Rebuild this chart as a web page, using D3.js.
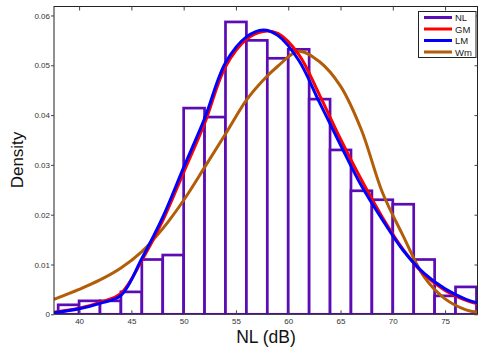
<!DOCTYPE html>
<html>
<head>
<meta charset="utf-8">
<script src="https://cdn.jsdelivr.net/npm/d3@7"></script>
<style>
body{margin:0;background:#fff;}
svg{font-family:"Liberation Sans",Arial,sans-serif;}
</style>
</head>
<body>
<div id="Main_Part"></div>
<script>
// histogram of NL, bins of 2 dB
var BinEdges = [38,40,42,44,46,48,50,52,54,56,58,60,62,64,66,68,70,72,74,76,78];
var BinDensity = [0.0019,0.0027,0.0027,0.0045,0.0110,0.0119,0.0414,0.0396,0.0587,0.0550,
                  0.0514,0.0532,0.0432,0.0330,0.0248,0.0230,0.0221,0.0110,0.0037,0.0055];

// fitted curves
var CurveX  = [37.6,40,42,44,46,48,50,52,54,56,57.6,59,61,63,65,67,69,71,73,75,77,78.1];
var CurveGM = [0.0004,0.0012,0.0024,0.0042,0.0108,0.0188,0.0285,0.0383,0.0497,0.0552,0.0568,0.0564,0.0522,0.0440,0.0352,0.0270,0.0195,0.0130,0.0080,0.0048,0.0028,0.0021];
var CurveLM = [0.0003,0.0011,0.0022,0.0038,0.0112,0.0195,0.0295,0.0393,0.0505,0.0557,0.0571,0.0560,0.0510,0.0425,0.0340,0.0258,0.0190,0.0128,0.0082,0.0051,0.0030,0.0023];
var CurveWm = [0.0030,0.0050,0.0069,0.0093,0.0126,0.0172,0.0229,0.0295,0.0362,0.0430,0.0470,0.0498,0.0528,0.0507,0.0458,0.0370,0.0245,0.0157,0.0075,0.0031,0.0009,0.0004];

var XTicks = [40,45,50,55,60,65,70,75];
var YTicks = [0,0.01,0.02,0.03,0.04,0.05,0.06];
var LegendNames = ["NL","GM","LM","Wm"];
var LegendColors = ["#5c0cb4","#ff0000","#0000ff","#b25d08"];

var Left = 54, Right = 477.5, Top = 6.5, Bottom = 314.3;

var svg = d3.select('#Main_Part')
	.append("svg")
	.attr("width",479)
	.attr("height",347);

var x = d3.scaleLinear().domain([37.6,78.1]).range([Left,Right]);
var y = d3.scaleLinear().domain([0,0.0618]).range([Bottom,Top]);

svg.append("clipPath")
	.attr("id","PlotClip")
	.append("rect")
	.attr("x",Left)
	.attr("y",Top)
	.attr("width",Right-Left)
	.attr("height",Bottom-Top);

var Plot = svg.append("g").attr("clip-path","url(#PlotClip)");

// bars
Plot.selectAll(".bar")
	.data(BinDensity)
	.enter()
	.append("rect")
	.attr("class","bar")
	.attr("x",function(d,i){ return x(BinEdges[i]); })
	.attr("width",function(d,i){ return x(BinEdges[i+1]) - x(BinEdges[i]); })
	.attr("y",function(d){ return y(d); })
	.attr("height",function(d){ return y(0) - y(d); })
	.style("fill","white")
	.style("stroke",LegendColors[0])
	.style("stroke-width",2.7);

// curves
var line = d3.line()
	.x(function(d){ return x(d[0]); })
	.y(function(d){ return y(d[1]); })
	.curve(d3.curveCatmullRom.alpha(0.5));

function DrawCurve(Values,Color)
{
	Plot.append("path")
	.datum(CurveX.map(function(v,i){ return [v,Values[i]]; }))
	.attr("d",line)
	.style("fill","none")
	.style("stroke",Color)
	.style("stroke-width",3);
	return null;
}
DrawCurve(CurveWm,LegendColors[3]);
DrawCurve(CurveGM,LegendColors[1]);
DrawCurve(CurveLM,LegendColors[2]);

// frame
svg.append("rect")
	.attr("x",Left)
	.attr("y",Top)
	.attr("width",Right-Left)
	.attr("height",Bottom-Top)
	.style("fill","none")
	.style("stroke","#222")
	.style("stroke-width",1);

// ticks
svg.append("g")
	.attr("transform","translate(0," + Bottom + ")")
	.call(d3.axisBottom(x).tickValues(XTicks).tickSize(-4).tickPadding(4))
	.call(function(g){ g.select(".domain").remove(); });
svg.append("g")
	.attr("transform","translate(0," + Top + ")")
	.call(d3.axisTop(x).tickValues(XTicks).tickSize(-4).tickFormat(""))
	.call(function(g){ g.select(".domain").remove(); });
svg.append("g")
	.attr("transform","translate(" + Left + ",0)")
	.call(d3.axisLeft(y).tickValues(YTicks).tickSize(3).tickPadding(1).tickFormat(function(d){ return d==0 ? "0" : d3.format(".2f")(d); }))
	.call(function(g){ g.select(".domain").remove(); });
svg.append("g")
	.attr("transform","translate(" + Right + ",0)")
	.call(d3.axisRight(y).tickValues(YTicks).tickSize(-3).tickFormat(""))
	.call(function(g){ g.select(".domain").remove(); });

svg.selectAll(".tick line").style("stroke","#444");
svg.selectAll(".tick text")
	.style("font-size","8px")
	.style("fill","#333")
	.style("font-family","Liberation Sans, Arial, sans-serif");

// axis labels
svg.append("text")
	.attr("x",266)
	.attr("y",343)
	.attr("text-anchor","middle")
	.text("NL (dB)")
	.style("font-size","17.5px")
	.style("fill","#111");

svg.append("text")
	.attr("transform","translate(23,160) rotate(-90)")
	.attr("text-anchor","middle")
	.text("Density")
	.style("font-size","17px")
	.style("fill","#111");

// legend
var Legend = svg.append("g");
Legend.append("rect")
	.attr("x",418.5)
	.attr("y",11.5)
	.attr("width",57.5)
	.attr("height",46)
	.style("fill","white")
	.style("stroke","#222")
	.style("stroke-width",1);

LegendNames.forEach(function(Name,i){
	var ly = 17.5 + i*11.5;
	Legend.append("line")
		.attr("x1",424)
		.attr("x2",452)
		.attr("y1",ly)
		.attr("y2",ly)
		.style("stroke",LegendColors[i])
		.style("stroke-width",3);
	Legend.append("text")
		.attr("x",455)
		.attr("y",ly+3.5)
		.text(Name)
		.style("font-size","9.5px")
		.style("fill","#222");
});
</script>
</body>
</html>
